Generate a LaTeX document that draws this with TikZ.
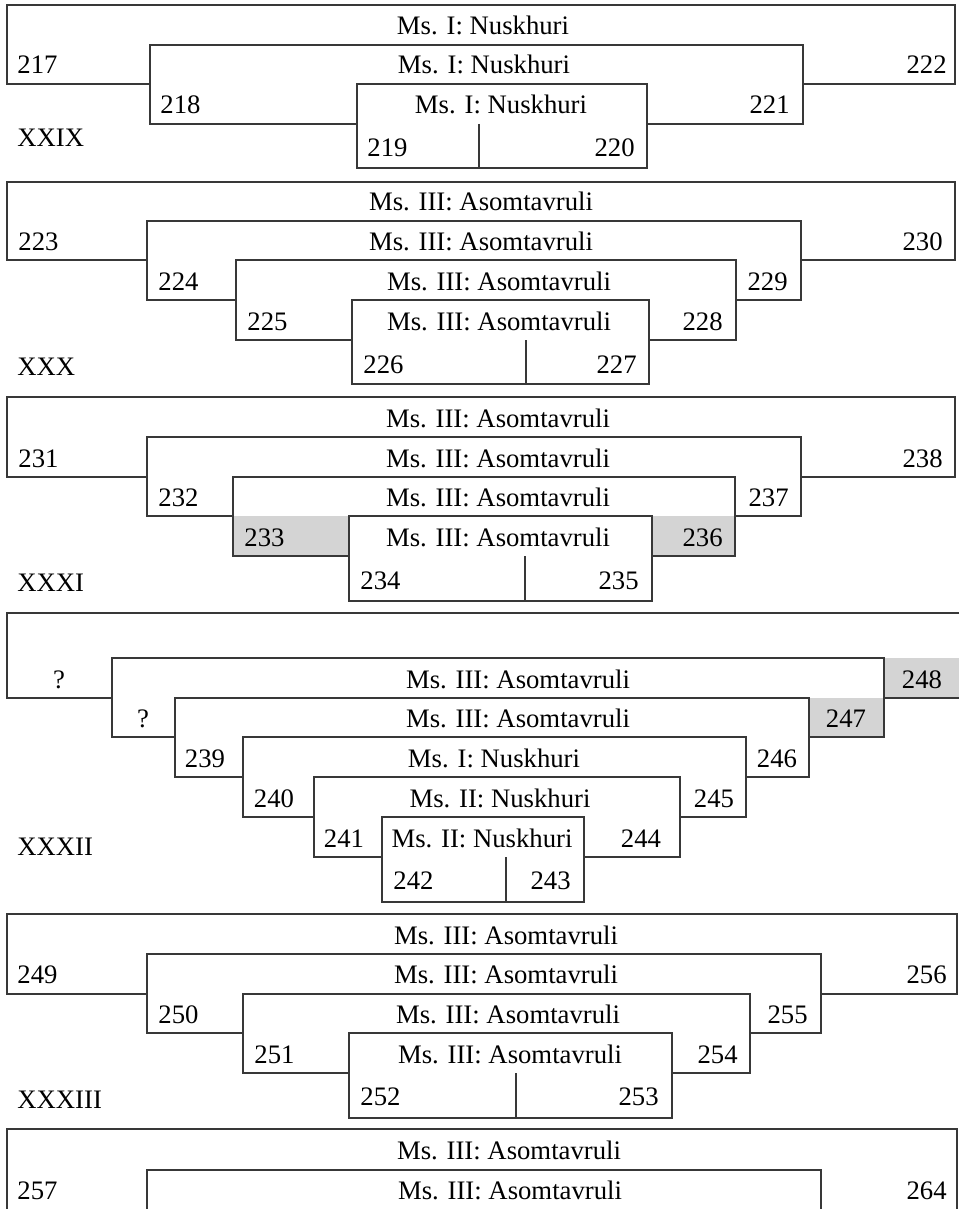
\documentclass[tikz,border=0pt]{standalone}
\usepackage{fontspec}
\setmainfont{Liberation Serif}
\definecolor{rulegray}{gray}{0.22}
\definecolor{cellgray}{gray}{0.83}
\tikzset{
  quirebox/.style={draw=rulegray, fill=white, line width=0.6pt},
  seam/.style={draw=rulegray, line width=0.6pt},
  graycell/.style={fill=cellgray},
  lbl/.style={anchor=base, inner sep=0pt, font=\fontsize{13.35}{16}\selectfont},
}

\begin{document}
\begin{tikzpicture}[x=0.5pt, y=-0.5pt]
    \useasboundingbox (0,0) rectangle (959,1209);

    % Quire XXIX
    \foreach \xa/\ya/\xb/\yb in {7/5/955/84, 150/45/803/124, 357/84/647/168}
        \path[quirebox] (\xa,\ya) rectangle (\xb,\yb);
    \draw[seam] (479,124) -- (479,168);
    \foreach \x/\y/\s [count=\i] in {483/35/I: Nuskhuri, 484/74/I: Nuskhuri, 501/114/I: Nuskhuri}
        \node[lbl] (ms29-\i) at (\x,\y) {Ms. \s};
    \foreach \x/\y/\a/\n in {17/74/west/217, 160/114/west/218, 367/157/west/219,
                             947/74/east/222, 790/114/east/221, 635/157/east/220}
        \node[lbl, anchor=base \a] (f\n) at (\x,\y) {\n};
    \node[lbl, anchor=base west] (q29) at (17,147) {XXIX};

    % Quire XXX
    \foreach \xa/\ya/\xb/\yb in {7/182/955/260, 147/221/801/300, 236/260/736/340, 352/300/649/384}
        \path[quirebox] (\xa,\ya) rectangle (\xb,\yb);
    \draw[seam] (526,340) -- (526,384);
    \foreach \x/\y [count=\i] in {481/211, 481/250, 499/290, 499/330}
        \node[lbl] (ms30-\i) at (\x,\y) {Ms. III: Asomtavruli};
    \foreach \x/\y/\a/\n in {18/250/west/223, 158/290/west/224, 247/330/west/225, 363/373/west/226,
                             943/250/east/230, 788/290/east/229, 723/330/east/228, 637/373/east/227}
        \node[lbl, anchor=base \a] (f\n) at (\x,\y) {\n};
    \node[lbl, anchor=base west] (q30) at (17,375) {XXX};

    % Quire XXXI
    \foreach \xa/\ya/\xb/\yb in {7/397/955/477, 147/437/801/516, 233/477/735/556}
        \path[quirebox] (\xa,\ya) rectangle (\xb,\yb);
    \fill[graycell] (233,516) rectangle (349,556);
    \fill[graycell] (652,516) rectangle (735,556);
    \draw[seam] (233,516) |- (349,556);
    \draw[seam] (735,516) |- (652,556);
    \path[quirebox] (349,516) rectangle (652,601);
    \draw[seam] (525,556) -- (525,601);
    \foreach \x/\y [count=\i] in {498/427, 498/467, 498/506, 498/546}
        \node[lbl] (ms31-\i) at (\x,\y) {Ms. III: Asomtavruli};
    \foreach \x/\y/\a/\n in {18/467/west/231, 158/506/west/232, 244/546/west/233, 360/589/west/234,
                             943/467/east/238, 789/506/east/237, 723/546/east/236, 639/589/east/235}
        \node[lbl, anchor=base \a] (f\n) at (\x,\y) {\n};
    \node[lbl, anchor=base west] (q31) at (17,591) {XXXI};

    % Quire XXXII (outer bifolium open on the right)
    \path[quirebox] (959,613) -| (7,698) -- (959,698);
    \foreach \xa/\ya/\xb/\yb in {112/658/884/737, 175/698/809/777}
        \path[quirebox] (\xa,\ya) rectangle (\xb,\yb);
    \fill[graycell] (884,658) rectangle (959,698);
    \fill[graycell] (809,698) rectangle (884,737);
    \draw[seam] (884,658) |- (959,698);
    \draw[seam] (809,698) |- (884,737) -- (884,698);
    \foreach \xa/\ya/\xb/\yb in {243/737/746/817, 314/777/680/857, 382/817/584/902}
        \path[quirebox] (\xa,\ya) rectangle (\xb,\yb);
    \draw[seam] (506,857) -- (506,902);
    \foreach \x/\y/\s [count=\i] in {518/688/III: Asomtavruli, 518/727/III: Asomtavruli,
                                     494/767/I: Nuskhuri, 500/807/II: Nuskhuri, 482/847/II: Nuskhuri}
        \node[lbl] (ms32-\i) at (\x,\y) {Ms. \s};
    \node[lbl] (f32x) at (59,688) {?};
    \node[lbl] (f32y) at (143,727) {?};
    \foreach \x/\y/\n in {922/688/248, 846/727/247, 205/767/239, 777/767/246,
                          274/807/240, 714/807/245, 344/847/241, 641/847/244}
        \node[lbl] (f\n) at (\x,\y) {\n};
    \node[lbl, anchor=base west] (f242) at (393,889) {242};
    \node[lbl, anchor=base east] (f243) at (571,889) {243};
    \node[lbl, anchor=base west] (q32) at (17,855) {XXXII};

    % Quire XXXIII
    \foreach \xa/\ya/\xb/\yb in {7/914/957/994, 147/954/821/1033, 243/994/750/1073, 349/1033/672/1118}
        \path[quirebox] (\xa,\ya) rectangle (\xb,\yb);
    \draw[seam] (516,1073) -- (516,1118);
    \foreach \x/\y [count=\i] in {506/944, 506/983, 508/1023, 510/1063}
        \node[lbl] (ms33-\i) at (\x,\y) {Ms. III: Asomtavruli};
    \foreach \x/\y/\a/\n in {17/983/west/249, 158/1023/west/250, 254/1063/west/251, 360/1105/west/252,
                             947/983/east/256, 808/1023/east/255, 738/1063/east/254, 659/1105/east/253}
        \node[lbl, anchor=base \a] (f\n) at (\x,\y) {\n};
    \node[lbl, anchor=base west] (q33) at (17,1108) {XXXIII};

    % Quire XXXIV (cut off at the page foot)
    \path[quirebox] (7,1209) |- (957,1129) -- (957,1209);
    \path[quirebox] (147,1209) |- (821,1170) -- (821,1209);
    \node[lbl] (ms34-1) at (509,1159) {Ms. III: Asomtavruli};
    \node[lbl] (ms34-2) at (510,1199) {Ms. III: Asomtavruli};
    \node[lbl, anchor=base west] (f257) at (17,1199) {257};
    \node[lbl, anchor=base east] (f264) at (947,1199) {264};
\end{tikzpicture}
\end{document}
